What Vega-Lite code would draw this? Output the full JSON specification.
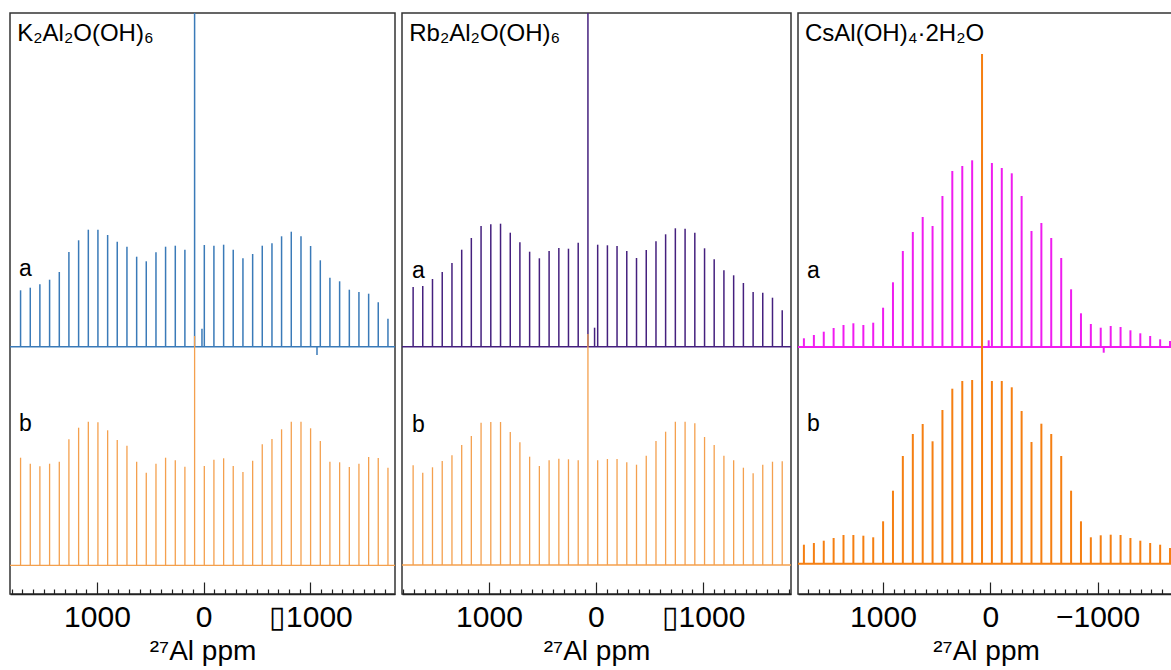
{
  "$schema": "https://vega.github.io/schema/vega-lite/v6.json",
  "background": "white",
  "padding": {"left": 8, "top": 12, "right": 0, "bottom": 0},
  "spacing": 7,
  "bounds": "flush",
  "config": {
    "font": "Liberation Sans",
    "view": {"stroke": "#333333", "strokeWidth": 1.5},
    "axis": {"grid": false, "domainColor": "#222222", "domainWidth": 1.5, "tickColor": "#222222", "tickWidth": 1.2, "labelFont": "Liberation Sans", "labelFontSize": 30, "labelColor": "#000000", "labelPadding": 20, "labelOverlap": false, "labelFlush": false, "titleFont": "Liberation Sans", "titleFontSize": 28, "titleFontWeight": "normal", "titleColor": "#000000", "titlePadding": 5},
    "title": {"font": "Liberation Sans", "fontSize": 24, "fontWeight": "normal", "color": "#000000", "anchor": "start", "baseline": "alphabetic", "offset": -33, "dx": 8}
  },
  "datasets": {
    "p1": [
      {"s":"a","ppm":1716,"v":303.7},{"s":"a","ppm":1625,"v":306.3},{"s":"a","ppm":1535,"v":309.7},{"s":"a","ppm":1444,"v":314.3},{"s":"a","ppm":1353,"v":322},{"s":"a","ppm":1263,"v":342},{"s":"a","ppm":1172,"v":353.7},{"s":"a","ppm":1081,"v":364.3},{"s":"a","ppm":991,"v":364.3},{"s":"a","ppm":900,"v":359},{"s":"a","ppm":810,"v":352.3},{"s":"a","ppm":719,"v":347.3},{"s":"a","ppm":628,"v":337.3},{"s":"a","ppm":538,"v":332.7},{"s":"a","ppm":447,"v":341.7},{"s":"a","ppm":357,"v":347.3},{"s":"a","ppm":266,"v":348.3},{"s":"a","ppm":176,"v":344.3},{"s":"a","ppm":85,"v":600},{"s":"a","ppm":16,"v":265.3},{"s":"a","ppm":-6,"v":349},{"s":"a","ppm":-96,"v":348.3},{"s":"a","ppm":-187,"v":349.3},{"s":"a","ppm":-277,"v":344.3},{"s":"a","ppm":-368,"v":335.7},{"s":"a","ppm":-459,"v":340},{"s":"a","ppm":-549,"v":348.3},{"s":"a","ppm":-640,"v":350.7},{"s":"a","ppm":-730,"v":357.7},{"s":"a","ppm":-821,"v":362.3},{"s":"a","ppm":-912,"v":357.7},{"s":"a","ppm":-1002,"v":348},{"s":"a","ppm":-1062,"v":239},{"s":"a","ppm":-1093,"v":333.7},{"s":"a","ppm":-1183,"v":316.3},{"s":"a","ppm":-1274,"v":312.7},{"s":"a","ppm":-1365,"v":304.3},{"s":"a","ppm":-1455,"v":302},{"s":"a","ppm":-1546,"v":300.3},{"s":"a","ppm":-1636,"v":291.7},{"s":"a","ppm":-1727,"v":275.3},
      {"s":"b","ppm":1716,"v":136.3},{"s":"b","ppm":1625,"v":130.3},{"s":"b","ppm":1535,"v":127.7},{"s":"b","ppm":1444,"v":130.3},{"s":"b","ppm":1353,"v":132.3},{"s":"b","ppm":1263,"v":154.7},{"s":"b","ppm":1172,"v":166.3},{"s":"b","ppm":1081,"v":172.3},{"s":"b","ppm":991,"v":171.7},{"s":"b","ppm":900,"v":163.7},{"s":"b","ppm":810,"v":154},{"s":"b","ppm":719,"v":148.3},{"s":"b","ppm":628,"v":132.3},{"s":"b","ppm":538,"v":121.3},{"s":"b","ppm":447,"v":130.3},{"s":"b","ppm":357,"v":136.3},{"s":"b","ppm":266,"v":133.7},{"s":"b","ppm":176,"v":127.3},{"s":"b","ppm":85,"v":258},{"s":"b","ppm":-6,"v":128},{"s":"b","ppm":-96,"v":134.3},{"s":"b","ppm":-187,"v":135.7},{"s":"b","ppm":-277,"v":128},{"s":"b","ppm":-368,"v":122},{"s":"b","ppm":-459,"v":133.3},{"s":"b","ppm":-549,"v":149.7},{"s":"b","ppm":-640,"v":155},{"s":"b","ppm":-730,"v":164.7},{"s":"b","ppm":-821,"v":172.3},{"s":"b","ppm":-912,"v":172.3},{"s":"b","ppm":-1002,"v":165.7},{"s":"b","ppm":-1093,"v":153},{"s":"b","ppm":-1183,"v":132.3},{"s":"b","ppm":-1274,"v":131.7},{"s":"b","ppm":-1365,"v":127},{"s":"b","ppm":-1455,"v":130.3},{"s":"b","ppm":-1546,"v":137},{"s":"b","ppm":-1636,"v":136},{"s":"b","ppm":-1727,"v":126.3}
    ],
    "p2": [
      {"s":"a","ppm":1709,"v":307},{"s":"a","ppm":1619,"v":308},{"s":"a","ppm":1528,"v":315},{"s":"a","ppm":1437,"v":322},{"s":"a","ppm":1346,"v":331},{"s":"a","ppm":1255,"v":344.3},{"s":"a","ppm":1165,"v":356},{"s":"a","ppm":1074,"v":368},{"s":"a","ppm":983,"v":369.7},{"s":"a","ppm":892,"v":370.3},{"s":"a","ppm":801,"v":361.3},{"s":"a","ppm":711,"v":351.7},{"s":"a","ppm":620,"v":342.3},{"s":"a","ppm":529,"v":335.7},{"s":"a","ppm":438,"v":343},{"s":"a","ppm":347,"v":346},{"s":"a","ppm":257,"v":345.3},{"s":"a","ppm":166,"v":351.3},{"s":"a","ppm":75,"v":600},{"s":"a","ppm":13,"v":266.3},{"s":"a","ppm":-16,"v":349.3},{"s":"a","ppm":-107,"v":348.7},{"s":"a","ppm":-197,"v":348},{"s":"a","ppm":-288,"v":343},{"s":"a","ppm":-379,"v":336},{"s":"a","ppm":-470,"v":344},{"s":"a","ppm":-561,"v":352.7},{"s":"a","ppm":-651,"v":359.7},{"s":"a","ppm":-742,"v":365.7},{"s":"a","ppm":-833,"v":365.3},{"s":"a","ppm":-924,"v":361.3},{"s":"a","ppm":-1015,"v":345.7},{"s":"a","ppm":-1105,"v":334.7},{"s":"a","ppm":-1196,"v":323.7},{"s":"a","ppm":-1287,"v":318.7},{"s":"a","ppm":-1378,"v":311},{"s":"a","ppm":-1469,"v":302},{"s":"a","ppm":-1559,"v":301.3},{"s":"a","ppm":-1650,"v":296.3},{"s":"a","ppm":-1741,"v":283.7},
      {"s":"b","ppm":1709,"v":128.7},{"s":"b","ppm":1619,"v":121.3},{"s":"b","ppm":1528,"v":126.7},{"s":"b","ppm":1437,"v":133},{"s":"b","ppm":1346,"v":138.7},{"s":"b","ppm":1255,"v":149},{"s":"b","ppm":1165,"v":158},{"s":"b","ppm":1074,"v":171.3},{"s":"b","ppm":983,"v":172},{"s":"b","ppm":892,"v":172},{"s":"b","ppm":801,"v":162},{"s":"b","ppm":711,"v":151.7},{"s":"b","ppm":620,"v":137.3},{"s":"b","ppm":529,"v":128},{"s":"b","ppm":438,"v":133.7},{"s":"b","ppm":347,"v":135.3},{"s":"b","ppm":257,"v":134.7},{"s":"b","ppm":166,"v":133.7},{"s":"b","ppm":75,"v":260},{"s":"b","ppm":-16,"v":133.7},{"s":"b","ppm":-107,"v":135},{"s":"b","ppm":-197,"v":135},{"s":"b","ppm":-288,"v":131.7},{"s":"b","ppm":-379,"v":129.3},{"s":"b","ppm":-470,"v":138.3},{"s":"b","ppm":-561,"v":153},{"s":"b","ppm":-651,"v":162.3},{"s":"b","ppm":-742,"v":172.3},{"s":"b","ppm":-833,"v":172.3},{"s":"b","ppm":-924,"v":170.7},{"s":"b","ppm":-1015,"v":157},{"s":"b","ppm":-1105,"v":149},{"s":"b","ppm":-1196,"v":138.3},{"s":"b","ppm":-1287,"v":133.7},{"s":"b","ppm":-1378,"v":126.3},{"s":"b","ppm":-1469,"v":120.7},{"s":"b","ppm":-1559,"v":129.3},{"s":"b","ppm":-1650,"v":132.3},{"s":"b","ppm":-1741,"v":132.7}
    ],
    "p3": [
      {"s":"a","ppm":1737,"v":255.7},{"s":"a","ppm":1644,"v":259},{"s":"a","ppm":1552,"v":262.3},{"s":"a","ppm":1460,"v":266},{"s":"a","ppm":1368,"v":269},{"s":"a","ppm":1276,"v":270.7},{"s":"a","ppm":1183,"v":269},{"s":"a","ppm":1091,"v":271.3},{"s":"a","ppm":999,"v":286.3},{"s":"a","ppm":907,"v":311.7},{"s":"a","ppm":815,"v":343},{"s":"a","ppm":722,"v":362},{"s":"a","ppm":630,"v":377},{"s":"a","ppm":538,"v":368},{"s":"a","ppm":446,"v":398},{"s":"a","ppm":354,"v":423},{"s":"a","ppm":261,"v":428},{"s":"a","ppm":169,"v":433.7},{"s":"a","ppm":77,"v":440},{"s":"a","ppm":15,"v":253.7},{"s":"a","ppm":-15,"v":431},{"s":"a","ppm":-107,"v":426},{"s":"a","ppm":-200,"v":420.7},{"s":"a","ppm":-292,"v":398},{"s":"a","ppm":-384,"v":363},{"s":"a","ppm":-476,"v":371},{"s":"a","ppm":-568,"v":356},{"s":"a","ppm":-661,"v":336},{"s":"a","ppm":-753,"v":304.7},{"s":"a","ppm":-845,"v":280.7},{"s":"a","ppm":-937,"v":270},{"s":"a","ppm":-1029,"v":266.3},{"s":"a","ppm":-1057,"v":241.3},{"s":"a","ppm":-1122,"v":268},{"s":"a","ppm":-1214,"v":267},{"s":"a","ppm":-1306,"v":263.7},{"s":"a","ppm":-1398,"v":260.7},{"s":"a","ppm":-1490,"v":258},{"s":"a","ppm":-1583,"v":254.7},{"s":"a","ppm":-1675,"v":253},
      {"s":"b","ppm":1737,"v":49.3},{"s":"b","ppm":1644,"v":51},{"s":"b","ppm":1552,"v":53.3},{"s":"b","ppm":1460,"v":56},{"s":"b","ppm":1368,"v":59},{"s":"b","ppm":1276,"v":59},{"s":"b","ppm":1183,"v":58.3},{"s":"b","ppm":1091,"v":56.7},{"s":"b","ppm":999,"v":72.7},{"s":"b","ppm":907,"v":103.3},{"s":"b","ppm":815,"v":138},{"s":"b","ppm":722,"v":160},{"s":"b","ppm":630,"v":170},{"s":"b","ppm":538,"v":152.7},{"s":"b","ppm":446,"v":184},{"s":"b","ppm":354,"v":205.3},{"s":"b","ppm":261,"v":213},{"s":"b","ppm":169,"v":214},{"s":"b","ppm":77,"v":540},{"s":"b","ppm":-15,"v":213},{"s":"b","ppm":-107,"v":213},{"s":"b","ppm":-200,"v":206.7},{"s":"b","ppm":-292,"v":183},{"s":"b","ppm":-384,"v":152},{"s":"b","ppm":-476,"v":170.3},{"s":"b","ppm":-568,"v":160},{"s":"b","ppm":-661,"v":138},{"s":"b","ppm":-753,"v":103.3},{"s":"b","ppm":-845,"v":72.7},{"s":"b","ppm":-937,"v":56.7},{"s":"b","ppm":-1029,"v":58.7},{"s":"b","ppm":-1122,"v":59.3},{"s":"b","ppm":-1214,"v":59},{"s":"b","ppm":-1306,"v":56},{"s":"b","ppm":-1398,"v":53.3},{"s":"b","ppm":-1490,"v":51},{"s":"b","ppm":-1583,"v":49.3},{"s":"b","ppm":-1675,"v":46}
    ]
  },
  "hconcat": [
    {
      "width": 385, "height": 581,
      "title": {"text": "K₂Al₂O(OH)₆"},
      "data": {"name": "p1"},
      "resolve": {"axis": {"x": "independent"}},
      "layer": [
        {"data": {"values": [{"s": "a"}]}, "mark": {"type": "rule", "color": "#3a7ab8", "strokeWidth": 1.5}, "encoding": {"y": {"datum": 247.3, "type": "quantitative", "scale": {"domain": [0, 581], "nice": false, "zero": false}, "axis": null}}},
        {"transform": [{"filter": "datum.s === 'a'"}], "mark": {"type": "rule", "color": "#3a7ab8", "strokeWidth": 1.5, "clip": true},
         "encoding": {
           "x": {"field": "ppm", "type": "quantitative", "scale": {"domain": [1815, -1793], "nice": false, "zero": false},
                 "axis": {"orient": "bottom", "title": "²⁷Al ppm", "values": [1000, 0, -1000], "labelExpr": "datum.value === -1000 ? '▯1000' : format(datum.value, 'd')", "tickSize": -12}},
           "y": {"field": "v", "type": "quantitative", "scale": {"domain": [0, 581], "nice": false, "zero": false}, "axis": null},
           "y2": {"datum": 247.3}}},
        {"data": {"values": [{"s": "b"}]}, "mark": {"type": "rule", "color": "#f4a04e", "strokeWidth": 1.3}, "encoding": {"y": {"datum": 28.7, "type": "quantitative"}}},
        {"transform": [{"filter": "datum.s === 'b'"}], "mark": {"type": "rule", "color": "#f4a04e", "strokeWidth": 1.3, "clip": true},
         "encoding": {"x": {"field": "ppm", "type": "quantitative", "axis": {"orient": "bottom", "title": null, "labels": false, "domain": false, "tickSize": -5, "values": [1800,1700,1600,1500,1400,1300,1200,1100,900,800,700,600,500,400,300,200,100,-100,-200,-300,-400,-500,-600,-700,-800,-900,-1100,-1200,-1300,-1400,-1500,-1600,-1700]}}, "y": {"field": "v", "type": "quantitative"}, "y2": {"datum": 28.7}}},
        {"data": {"values": [{"t": "a", "yy": 318}, {"t": "b", "yy": 163}]}, "mark": {"type": "text", "fontSize": 23, "align": "left", "baseline": "alphabetic", "color": "#000000"},
         "encoding": {"x": {"datum": 1731, "type": "quantitative", "axis": null}, "y": {"field": "yy", "type": "quantitative"}, "text": {"field": "t"}}}
      ]
    },
    {
      "width": 389, "height": 581,
      "title": {"text": "Rb₂Al₂O(OH)₆"},
      "data": {"name": "p2"},
      "resolve": {"axis": {"x": "independent"}},
      "layer": [
        {"data": {"values": [{"s": "a"}]}, "mark": {"type": "rule", "color": "#45207e", "strokeWidth": 1.5}, "encoding": {"y": {"datum": 247.3, "type": "quantitative", "scale": {"domain": [0, 581], "nice": false, "zero": false}, "axis": null}}},
        {"transform": [{"filter": "datum.s === 'a'"}], "mark": {"type": "rule", "color": "#45207e", "strokeWidth": 1.5, "clip": true},
         "encoding": {
           "x": {"field": "ppm", "type": "quantitative", "scale": {"domain": [1813, -1823], "nice": false, "zero": false},
                 "axis": {"orient": "bottom", "title": "²⁷Al ppm", "values": [1000, 0, -1000], "labelExpr": "datum.value === -1000 ? '▯1000' : format(datum.value, 'd')", "tickSize": -12}},
           "y": {"field": "v", "type": "quantitative", "scale": {"domain": [0, 581], "nice": false, "zero": false}, "axis": null},
           "y2": {"datum": 247.3}}},
        {"data": {"values": [{"s": "b"}]}, "mark": {"type": "rule", "color": "#f4a04e", "strokeWidth": 1.3}, "encoding": {"y": {"datum": 29, "type": "quantitative"}}},
        {"transform": [{"filter": "datum.s === 'b'"}], "mark": {"type": "rule", "color": "#f4a04e", "strokeWidth": 1.3, "clip": true},
         "encoding": {"x": {"field": "ppm", "type": "quantitative", "axis": {"orient": "bottom", "title": null, "labels": false, "domain": false, "tickSize": -5, "values": [1800,1700,1600,1500,1400,1300,1200,1100,900,800,700,600,500,400,300,200,100,-100,-200,-300,-400,-500,-600,-700,-800,-900,-1100,-1200,-1300,-1400,-1500,-1600,-1700,-1800]}}, "y": {"field": "v", "type": "quantitative"}, "y2": {"datum": 29}}},
        {"data": {"values": [{"t": "a", "yy": 316}, {"t": "b", "yy": 162}]}, "mark": {"type": "text", "fontSize": 23, "align": "left", "baseline": "alphabetic", "color": "#000000"},
         "encoding": {"x": {"datum": 1720, "type": "quantitative", "axis": null}, "y": {"field": "yy", "type": "quantitative"}, "text": {"field": "t"}}}
      ]
    },
    {
      "width": 376, "height": 581,
      "title": {"text": "CsAl(OH)₄·2H₂O"},
      "data": {"name": "p3"},
      "resolve": {"axis": {"x": "independent"}},
      "layer": [
        {"data": {"values": [{"s": "a"}]}, "mark": {"type": "rule", "color": "#f01df0", "strokeWidth": 2}, "encoding": {"y": {"datum": 247, "type": "quantitative", "scale": {"domain": [0, 581], "nice": false, "zero": false}, "axis": null}}},
        {"transform": [{"filter": "datum.s === 'a'"}], "mark": {"type": "rule", "color": "#f01df0", "strokeWidth": 2, "clip": true},
         "encoding": {
           "x": {"field": "ppm", "type": "quantitative", "scale": {"domain": [1792, -1712], "nice": false, "zero": false},
                 "axis": {"orient": "bottom", "title": "²⁷Al ppm", "values": [1000, 0, -1000], "labelExpr": "format(datum.value, 'd')", "tickSize": -12}},
           "y": {"field": "v", "type": "quantitative", "scale": {"domain": [0, 581], "nice": false, "zero": false}, "axis": null},
           "y2": {"datum": 247}}},
        {"data": {"values": [{"s": "b"}]}, "mark": {"type": "rule", "color": "#f57f12", "strokeWidth": 2}, "encoding": {"y": {"datum": 30.3, "type": "quantitative"}}},
        {"transform": [{"filter": "datum.s === 'b'"}], "mark": {"type": "rule", "color": "#f57f12", "strokeWidth": 2, "clip": true},
         "encoding": {"x": {"field": "ppm", "type": "quantitative", "axis": {"orient": "bottom", "title": null, "labels": false, "domain": false, "tickSize": -5, "values": [1700,1600,1500,1400,1300,1200,1100,900,800,700,600,500,400,300,200,100,-100,-200,-300,-400,-500,-600,-700,-800,-900,-1100,-1200,-1300,-1400,-1500,-1600,-1700]}}, "y": {"field": "v", "type": "quantitative"}, "y2": {"datum": 30.3}}},
        {"data": {"values": [{"t": "a", "yy": 316}, {"t": "b", "yy": 163}]}, "mark": {"type": "text", "fontSize": 23, "align": "left", "baseline": "alphabetic", "color": "#000000"},
         "encoding": {"x": {"datum": 1708, "type": "quantitative", "axis": null}, "y": {"field": "yy", "type": "quantitative"}, "text": {"field": "t"}}}
      ]
    }
  ]
}
